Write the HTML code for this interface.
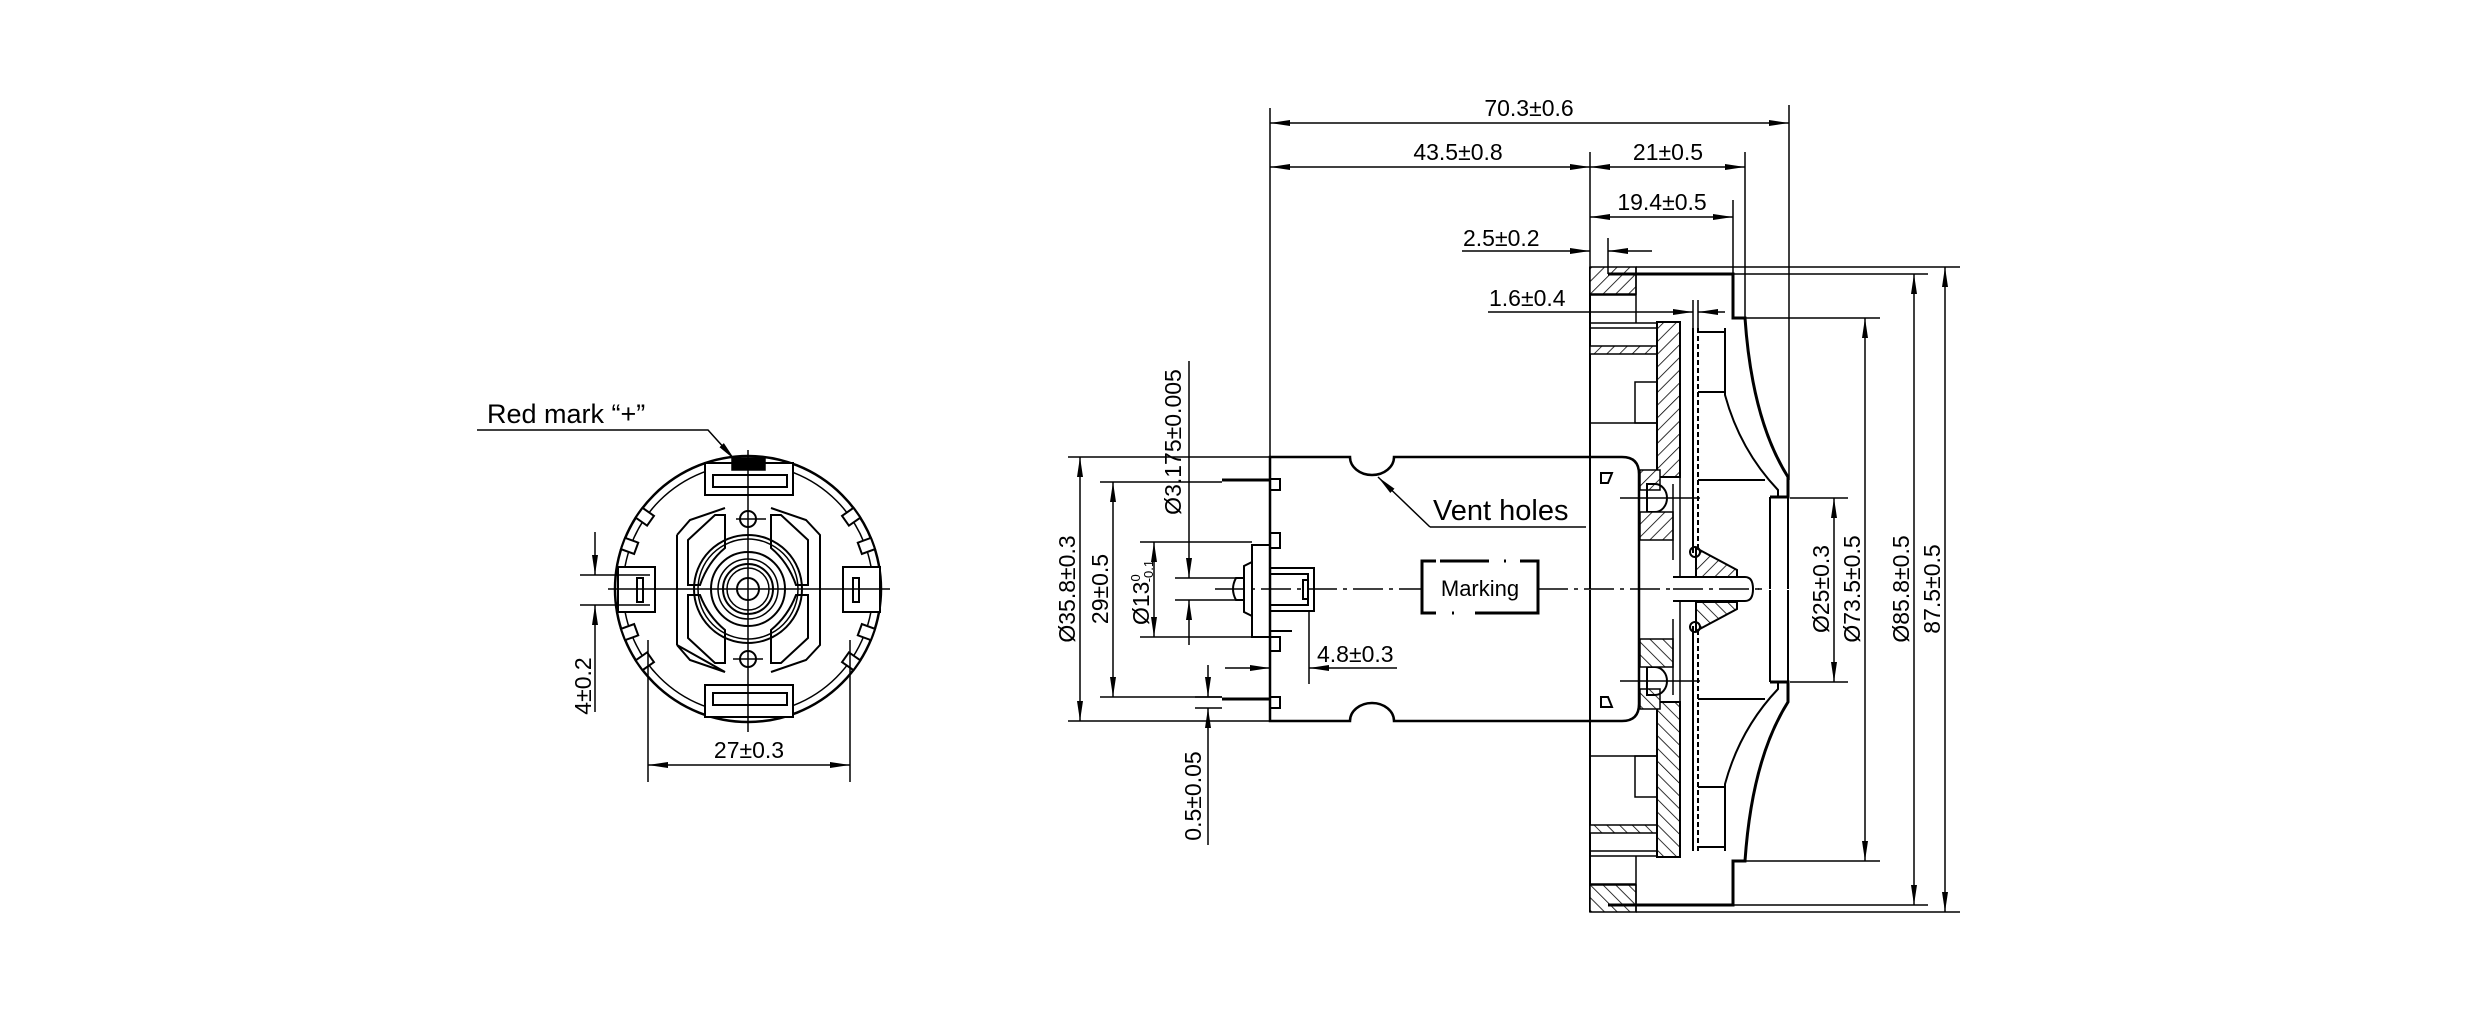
<!DOCTYPE html>
<html><head><meta charset="utf-8"><style>
html,body{margin:0;padding:0;background:#fff;}
svg{display:block;}
text{font-family:"Liberation Sans",Arial,sans-serif;fill:#000;}
</style></head><body>
<svg width="2481" height="1015" viewBox="0 0 2481 1015" xmlns="http://www.w3.org/2000/svg">
<defs>
<pattern id="h" width="9" height="9" patternUnits="userSpaceOnUse" patternTransform="rotate(45)">
<rect width="9" height="9" fill="#fff"/><line x1="0" y1="0" x2="0" y2="9" stroke="#000" stroke-width="1.6"/>
</pattern>
<marker id="a" viewBox="0 0 20 8" refX="20" refY="4" markerWidth="20" markerHeight="8" markerUnits="userSpaceOnUse" orient="auto">
<path d="M0,1 L20,4 L0,7 Z" fill="#000"/></marker>
<marker id="as" viewBox="0 0 20 8" refX="0" refY="4" markerWidth="20" markerHeight="8" markerUnits="userSpaceOnUse" orient="auto">
<path d="M20,1 L0,4 L20,7 Z" fill="#000"/></marker>
</defs>

<g stroke="#000" fill="none" stroke-width="1.5">
<!-- ============ LEFT END VIEW ============ -->
<circle cx="748" cy="589" r="133" stroke-width="2.5"/>
<circle cx="748" cy="589" r="125" stroke-width="1.5"/>
<g fill="#fff" stroke-width="2">
<rect x="-6" y="-7" width="12" height="14" transform="translate(748,589) rotate(-55) translate(0,-126)"/>
<rect x="-6" y="-7" width="12" height="14" transform="translate(748,589) rotate(55) translate(0,-126)"/>
<rect x="-6" y="-7" width="12" height="14" transform="translate(748,589) rotate(-110) translate(0,-126)"/>
<rect x="-6" y="-7" width="12" height="14" transform="translate(748,589) rotate(110) translate(0,-126)"/>
<rect x="-6" y="-7" width="12" height="14" transform="translate(748,589) rotate(-70) translate(0,-126)" />
<rect x="-6" y="-7" width="12" height="14" transform="translate(748,589) rotate(70) translate(0,-126)"/>
<rect x="-6" y="-7" width="12" height="14" transform="translate(748,589) rotate(-125) translate(0,-126)"/>
<rect x="-6" y="-7" width="12" height="14" transform="translate(748,589) rotate(125) translate(0,-126)"/>
</g>
<rect x="705" y="463" width="88" height="32" fill="#fff" stroke-width="2"/>
<rect x="713" y="475" width="74" height="12" stroke-width="2"/>
<rect x="732" y="458" width="33" height="12" fill="#000"/>
<rect x="705" y="685" width="88" height="32" fill="#fff" stroke-width="2"/>
<rect x="713" y="693" width="74" height="12" stroke-width="2"/>
<rect x="618" y="567" width="37" height="45" fill="#fff" stroke-width="2"/>
<rect x="637" y="578" width="6" height="24" stroke-width="2"/>
<rect x="843" y="567" width="37" height="45" fill="#fff" stroke-width="2"/>
<rect x="853" y="578" width="6" height="24" stroke-width="2"/>
<path d="M677,535 L690,520 L725,508 M771,508 L806,520 L820,535 L820,645 L806,660 L771,672 M725,672 L690,660 L677,645 Z" stroke-width="2"/>
<path d="M677,535 L677,645" stroke-width="2"/>
<path d="M688,540 L715,515 L725,515 L725,548 Q708,562 700,585 L688,585 Z" stroke-width="2"/>
<path d="M808,540 L781,515 L771,515 L771,548 Q788,562 796,585 L808,585 Z" stroke-width="2"/>
<path d="M688,638 L715,663 L725,663 L725,630 Q708,616 700,595 L688,595 Z" stroke-width="2"/>
<path d="M808,638 L781,663 L771,663 L771,630 Q788,616 796,595 L808,595 Z" stroke-width="2"/>
<circle cx="748" cy="589" r="54" stroke-width="2"/>
<circle cx="748" cy="589" r="50"/>
<circle cx="748" cy="589" r="37" stroke-width="2"/>
<circle cx="748" cy="589" r="30"/>
<circle cx="748" cy="589" r="25" stroke-width="2"/>
<circle cx="748" cy="589" r="21"/>
<circle cx="748" cy="589" r="11" stroke-width="2"/>
<circle cx="748" cy="519" r="8" stroke-width="2"/>
<circle cx="748" cy="659" r="8" stroke-width="2"/>
<line x1="736" y1="519" x2="766" y2="519"/><line x1="733" y1="659" x2="763" y2="659"/>
<line x1="608" y1="589" x2="890" y2="589"/>
<line x1="748" y1="450" x2="748" y2="732"/>
<line x1="580" y1="575" x2="650" y2="575"/><line x1="580" y1="605" x2="650" y2="605"/>
<line x1="595" y1="532" x2="595" y2="575" marker-end="url(#a)"/>
<line x1="595" y1="712" x2="595" y2="605" marker-end="url(#a)"/>
<line x1="648" y1="640" x2="648" y2="782"/><line x1="850" y1="640" x2="850" y2="782"/>
<line x1="648" y1="765" x2="850" y2="765" marker-start="url(#as)" marker-end="url(#a)"/>
<polyline points="477,430 708,430 735,460" marker-end="url(#a)"/>

<!-- ============ SIDE VIEW: MOTOR ============ -->
<path d="M1270,457 L1350,457 A22,18 0 0 0 1394,457 L1622,457 Q1639,457 1639,474 L1639,704 Q1639,721 1622,721 L1394,721 A22,18 0 0 0 1350,721 L1270,721 Z" stroke-width="2.5"/>
<g stroke-width="2">
<rect x="1270" y="479" width="10" height="11"/><rect x="1270" y="533" width="10" height="15"/>
<rect x="1270" y="637" width="10" height="14"/><rect x="1270" y="697" width="10" height="11"/>
<line x1="1222" y1="480" x2="1270" y2="480" stroke-width="3"/>
<line x1="1222" y1="699" x2="1270" y2="699" stroke-width="3"/>
<path d="M1270,545 L1252,545 L1252,637 L1270,637"/>
<path d="M1252,562 L1244,566 L1244,612 L1252,616"/>
<path d="M1244,578 L1236,578 Q1230,589 1236,600 L1244,600"/>
<rect x="1270" y="568" width="44" height="43"/>
<rect x="1270" y="574" width="38" height="31"/>
<rect x="1303" y="580" width="5" height="19"/>
<line x1="1270" y1="631" x2="1292" y2="631"/>
</g>
<g stroke-width="3">
<path d="M1436,561 L1422,561 L1422,613 L1436,613"/>
<line x1="1440" y1="561" x2="1489" y2="561"/><line x1="1504" y1="561" x2="1506" y2="561"/>
<path d="M1520,561 L1538,561 L1538,613 L1475,613"/>
<line x1="1452" y1="613" x2="1454" y2="613"/>
</g>
<path d="M1601,473 L1612,473 L1608,483 L1601,483 Z" stroke-width="2"/>
<path d="M1601,697 L1608,697 L1612,707 L1601,707 Z" stroke-width="2"/>
<line x1="1430" y1="527" x2="1378" y2="477" marker-end="url(#a)"/>
<line x1="1430" y1="527" x2="1586" y2="527"/>
<line x1="1215" y1="589" x2="1422" y2="589" stroke-dasharray="30,6,4,6"/>
<line x1="1538" y1="589" x2="1765" y2="589" stroke-dasharray="30,6,4,6"/>

<!-- ============ FAN ============ -->
<g id="fanTop">
<line x1="1590" y1="267" x2="1590" y2="589" stroke-width="2"/>
<rect x="1590" y="267" width="46" height="27" fill="url(#h)"/>
<path d="M1608,274 L1733,274 L1733,318 L1745,318 Q1752,420 1788,477 L1788,497 L1770,497" stroke-width="3"/>
<path d="M1725,328 L1725,395 Q1740,450 1778,490 L1778,497" stroke-width="2"/>
<line x1="1590" y1="295" x2="1636" y2="295"/>
<line x1="1636" y1="267" x2="1636" y2="323"/>
<line x1="1590" y1="323" x2="1657" y2="323"/>
<line x1="1590" y1="328" x2="1657" y2="328"/>
<rect x="1590" y="346" width="67" height="8" fill="url(#h)"/>
<rect x="1635" y="382" width="22" height="41"/>
<line x1="1590" y1="423" x2="1657" y2="423"/>
<rect x="1657" y="322" width="23" height="155" fill="url(#h)" stroke-width="2"/>
<rect x="1640" y="470" width="20" height="20" fill="url(#h)"/>
<path d="M1647,484 L1655,484 A12,14 0 0 1 1655,512 L1647,512 Z" stroke-width="2"/>
<line x1="1620" y1="498" x2="1700" y2="498"/>
<rect x="1640" y="512" width="33" height="28" fill="url(#h)"/>
<line x1="1673" y1="484" x2="1673" y2="560"/>
<line x1="1680" y1="477" x2="1680" y2="577"/>
<line x1="1693" y1="328" x2="1693" y2="553" stroke-width="2"/>
<line x1="1698" y1="328" x2="1698" y2="553" stroke-width="2" stroke-dasharray="5,3"/>
<line x1="1698" y1="332" x2="1725" y2="332" stroke-width="2"/>
<line x1="1698" y1="392" x2="1725" y2="392" stroke-width="2"/>
<line x1="1698" y1="480" x2="1765" y2="480" stroke-width="2"/>
<path d="M1696,548 L1737,570 L1737,577 L1696,577 Z" fill="url(#h)" stroke-width="2"/>
<circle cx="1695" cy="552" r="5" stroke-width="2"/>
<line x1="1770" y1="497" x2="1770" y2="589" stroke-width="2"/>
<line x1="1788" y1="497" x2="1788" y2="589" stroke-width="2"/>
</g>
<use href="#fanTop" transform="translate(0,1179) scale(1,-1)"/>
<path d="M1673,577 L1745,577 Q1753,577 1753,589 Q1753,601 1745,601 L1673,601" fill="#fff" stroke-width="2"/>
<line x1="1673" y1="589" x2="1765" y2="589" stroke-dasharray="30,6,4,6"/>

<!-- ============ DIMENSIONS ============ -->
<line x1="1270" y1="108" x2="1270" y2="457"/>
<line x1="1789" y1="105" x2="1789" y2="480"/>
<line x1="1270" y1="123" x2="1789" y2="123" marker-start="url(#as)" marker-end="url(#a)"/>
<line x1="1590" y1="152" x2="1590" y2="267"/>
<line x1="1270" y1="167" x2="1590" y2="167" marker-start="url(#as)" marker-end="url(#a)"/>
<line x1="1745" y1="152" x2="1745" y2="318"/>
<line x1="1590" y1="167" x2="1745" y2="167" marker-start="url(#as)" marker-end="url(#a)"/>
<line x1="1733" y1="200" x2="1733" y2="274"/>
<line x1="1590" y1="217" x2="1733" y2="217" marker-start="url(#as)" marker-end="url(#a)"/>
<line x1="1608" y1="238" x2="1608" y2="274"/>
<line x1="1462" y1="251" x2="1590" y2="251" marker-end="url(#a)"/>
<line x1="1652" y1="251" x2="1608" y2="251" marker-end="url(#a)"/>
<line x1="1693" y1="300" x2="1693" y2="328"/>
<line x1="1488" y1="312" x2="1693" y2="312" marker-end="url(#a)"/>
<line x1="1725" y1="312" x2="1698" y2="312" marker-end="url(#a)"/>
<line x1="1698" y1="300" x2="1698" y2="328"/>
<line x1="1790" y1="498" x2="1848" y2="498"/><line x1="1790" y1="682" x2="1848" y2="682"/>
<line x1="1834" y1="498" x2="1834" y2="682" marker-start="url(#as)" marker-end="url(#a)"/>
<line x1="1745" y1="318" x2="1880" y2="318"/><line x1="1745" y1="861" x2="1880" y2="861"/>
<line x1="1865" y1="318" x2="1865" y2="861" marker-start="url(#as)" marker-end="url(#a)"/>
<line x1="1733" y1="274" x2="1928" y2="274"/><line x1="1733" y1="905" x2="1928" y2="905"/>
<line x1="1914" y1="274" x2="1914" y2="905" marker-start="url(#as)" marker-end="url(#a)"/>
<line x1="1636" y1="267" x2="1960" y2="267"/><line x1="1636" y1="912" x2="1960" y2="912"/>
<line x1="1945" y1="267" x2="1945" y2="912" marker-start="url(#as)" marker-end="url(#a)"/>
<line x1="1068" y1="457" x2="1270" y2="457"/><line x1="1068" y1="721" x2="1270" y2="721"/>
<line x1="1080" y1="457" x2="1080" y2="721" marker-start="url(#as)" marker-end="url(#a)"/>
<line x1="1100" y1="482" x2="1222" y2="482"/><line x1="1100" y1="697" x2="1222" y2="697"/>
<line x1="1113" y1="482" x2="1113" y2="697" marker-start="url(#as)" marker-end="url(#a)"/>
<line x1="1140" y1="542" x2="1252" y2="542"/><line x1="1140" y1="637" x2="1252" y2="637"/>
<line x1="1154" y1="542" x2="1154" y2="637" marker-start="url(#as)" marker-end="url(#a)"/>
<line x1="1175" y1="578" x2="1236" y2="578"/><line x1="1175" y1="600" x2="1236" y2="600"/>
<line x1="1189" y1="361" x2="1189" y2="578" marker-end="url(#a)"/>
<line x1="1189" y1="645" x2="1189" y2="600" marker-end="url(#a)"/>
<line x1="1195" y1="697" x2="1222" y2="697"/><line x1="1195" y1="708" x2="1222" y2="708"/>
<line x1="1208" y1="665" x2="1208" y2="697" marker-end="url(#a)"/>
<line x1="1208" y1="845" x2="1208" y2="708" marker-end="url(#a)"/>
<line x1="1309" y1="611" x2="1309" y2="684"/>
<line x1="1225" y1="668" x2="1270" y2="668" marker-end="url(#a)"/>
<line x1="1397" y1="668" x2="1309" y2="668" marker-end="url(#a)"/>
</g>

<!-- ============ TEXT ============ -->
<g font-size="23">
<text x="487" y="423" font-size="27">Red mark “+”</text>
<text x="749" y="758" text-anchor="middle">27±0.3</text>
<text transform="translate(591,686) rotate(-90)" text-anchor="middle">4±0.2</text>
<text x="1529" y="116" text-anchor="middle">70.3±0.6</text>
<text x="1458" y="160" text-anchor="middle">43.5±0.8</text>
<text x="1668" y="160" text-anchor="middle">21±0.5</text>
<text x="1662" y="210" text-anchor="middle">19.4±0.5</text>
<text x="1463" y="246">2.5±0.2</text>
<text x="1489" y="306">1.6±0.4</text>
<text x="1433" y="520" font-size="29">Vent holes</text>
<text x="1480" y="596" text-anchor="middle" font-size="22">Marking</text>
<text x="1317" y="662">4.8±0.3</text>
<text transform="translate(1075,589) rotate(-90)" text-anchor="middle">Ø35.8±0.3</text>
<text transform="translate(1108,589) rotate(-90)" text-anchor="middle">29±0.5</text>
<text transform="translate(1149,625) rotate(-90)">Ø13<tspan font-size="13" dy="-9">0</tspan><tspan font-size="13" dx="-8" dy="13">-0.1</tspan></text>
<text transform="translate(1181,442) rotate(-90)" text-anchor="middle">Ø3.175±0.005</text>
<text transform="translate(1201,796) rotate(-90)" text-anchor="middle">0.5±0.05</text>
<text transform="translate(1829,589) rotate(-90)" text-anchor="middle">Ø25±0.3</text>
<text transform="translate(1860,589) rotate(-90)" text-anchor="middle">Ø73.5±0.5</text>
<text transform="translate(1909,589) rotate(-90)" text-anchor="middle">Ø85.8±0.5</text>
<text transform="translate(1940,589) rotate(-90)" text-anchor="middle">87.5±0.5</text>
</g>
</svg>
</body></html>
